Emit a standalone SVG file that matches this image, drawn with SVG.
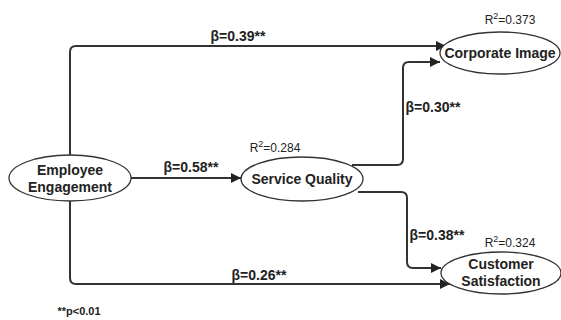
<svg xmlns="http://www.w3.org/2000/svg" width="561" height="320" viewBox="0 0 561 320">
<style>
.n{fill:#fff;stroke:#333;stroke-width:1.3}
.t{font-family:"Liberation Sans",Arial,sans-serif;font-weight:bold;font-size:14px;fill:#222;text-anchor:middle}
.r{font-family:"Liberation Sans",Arial,sans-serif;font-size:12px;fill:#222;text-anchor:middle}
.c{fill:none;stroke:#333;stroke-width:2;marker-end:url(#a)}
</style>
<defs>
<marker id="a" viewBox="0 0 10 10" refX="10" refY="5" markerWidth="10" markerHeight="10" orient="auto" markerUnits="userSpaceOnUse">
<path d="M0,0 L10,5 L0,10 Z" fill="#222"/>
</marker>
</defs>
<rect width="561" height="320" fill="#fff"/>
<g id="connectors">
<path class="c" d="M70,155 V52 Q70,46 76,46 H446"/>
<path class="c" d="M131,178 H241"/>
<path class="c" d="M352,165 H397 Q403,165 403,159 V68 Q403,62 409,62 H440"/>
<path class="c" d="M358,192 H401 Q407,192 407,198 V262 Q407,268 413,268 H441"/>
<path class="c" d="M70,201 V278 Q70,284 76,284 H450"/>
</g>
<g id="ee">
<ellipse class="n" cx="70" cy="178" rx="61" ry="23"/>
<text class="t" x="70" y="175">Employee</text>
<text class="t" x="70" y="192">Engagement</text>
</g>
<g id="sq">
<ellipse class="n" cx="302" cy="179" rx="61" ry="22"/>
<text class="t" x="302" y="184">Service Quality</text>
<text class="r" x="275" y="152">R<tspan dy="-5" font-size="9">2</tspan><tspan dy="5">=0.284</tspan></text>
</g>
<g id="ci">
<ellipse class="n" cx="500" cy="53" rx="60" ry="21"/>
<text class="t" x="500" y="58">Corporate Image</text>
<text class="r" x="510" y="24">R<tspan dy="-5" font-size="9">2</tspan><tspan dy="5">=0.373</tspan></text>
</g>
<g id="cs">
<ellipse class="n" cx="501" cy="273" rx="60" ry="21"/>
<text class="t" x="501" y="269">Customer</text>
<text class="t" x="501" y="286">Satisfaction</text>
<text class="r" x="510" y="247">R<tspan dy="-5" font-size="9">2</tspan><tspan dy="5">=0.324</tspan></text>
</g>
<g id="labels">
<text class="t" x="238" y="41">β=0.39**</text>
<text class="t" x="191" y="172">β=0.58**</text>
<text class="t" x="433" y="112">β=0.30**</text>
<text class="t" x="437" y="240">β=0.38**</text>
<text class="t" x="259" y="280">β=0.26**</text>
<text class="t" x="79" y="315" style="font-size:11px">**p&lt;0.01</text>
</g>
</svg>
